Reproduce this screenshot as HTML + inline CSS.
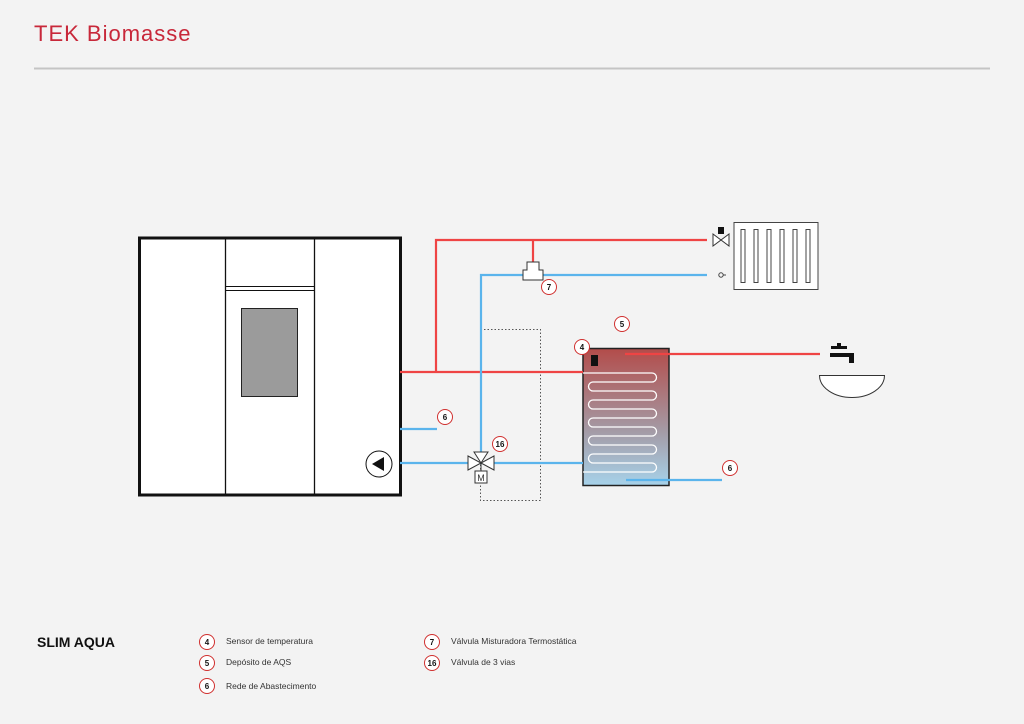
<!DOCTYPE html>
<html><head><meta charset="utf-8"><style>
html,body{margin:0;padding:0;background:#f3f3f3;}
svg{display:block;}
text{font-family:"Liberation Sans",sans-serif;}
</style></head><body>
<svg width="1024" height="724" viewBox="0 0 1024 724" xmlns="http://www.w3.org/2000/svg">
<defs>
<linearGradient id="tg" x1="0" y1="0" x2="0" y2="1">
<stop offset="0" stop-color="#b34c4a"/>
<stop offset="0.6" stop-color="#a49aa5"/>
<stop offset="1" stop-color="#a6d2ea"/>
</linearGradient>
</defs>
<rect width="1024" height="724" fill="#f3f3f3"/>
<text x="34" y="41" font-size="22" fill="#c8283a" letter-spacing="1">TEK Biomasse</text>
<line x1="34" y1="68.5" x2="990" y2="68.5" stroke="#c4c4c4" stroke-width="2"/>

<!-- boiler -->
<rect x="139.5" y="238" width="261" height="257" fill="#fff" stroke="#111" stroke-width="3"/>
<line x1="225.5" y1="238" x2="225.5" y2="495" stroke="#111" stroke-width="1.3"/>
<line x1="314.5" y1="238" x2="314.5" y2="495" stroke="#111" stroke-width="1.3"/>
<line x1="225.5" y1="286.5" x2="314.5" y2="286.5" stroke="#111" stroke-width="1"/>
<line x1="225.5" y1="290.5" x2="314.5" y2="290.5" stroke="#111" stroke-width="1"/>
<rect x="241.5" y="308.5" width="56" height="88" fill="#9b9b9b" stroke="#222" stroke-width="1"/>
<circle cx="379" cy="464" r="13" fill="#fff" stroke="#111" stroke-width="1"/>
<polygon points="372,464 384,457 384,471" fill="#111"/>

<!-- dotted -->
<rect x="480.5" y="329.5" width="60" height="171" fill="none" stroke="#555" stroke-width="1" stroke-dasharray="1.5,2"/>

<!-- tank -->
<rect x="583" y="348.5" width="86" height="137" fill="url(#tg)" stroke="#222" stroke-width="1.5"/>
<path d="M583,373 H652 a4.5,4.5 0 0 1 0,9 H593 a4.5,4.5 0 0 0 0,9 H652 a4.5,4.5 0 0 1 0,9 H593 a4.5,4.5 0 0 0 0,9 H652 a4.5,4.5 0 0 1 0,9 H593 a4.5,4.5 0 0 0 0,9 H652 a4.5,4.5 0 0 1 0,9 H593 a4.5,4.5 0 0 0 0,9 H652 a4.5,4.5 0 0 1 0,9 H593 a4.5,4.5 0 0 0 0,9 H652 a4.5,4.5 0 0 1 0,9 H583" fill="none" stroke="#fff" stroke-width="1.3"/>
<rect x="591" y="355" width="7" height="11" fill="#111"/>

<!-- red pipes -->
<g stroke="#ef4444" stroke-width="2.2" fill="none">
<line x1="400" y1="372" x2="583" y2="372"/>
<polyline points="436,372 436,240 707,240"/>
<line x1="533" y1="240" x2="533" y2="262"/>
<line x1="625" y1="354" x2="820" y2="354"/>
</g>
<!-- blue pipes -->
<g stroke="#5ab4ec" stroke-width="2.2" fill="none">
<polyline points="481,455 481,275 707,275"/>
<line x1="400" y1="463" x2="583" y2="463"/>
<line x1="400" y1="429" x2="437" y2="429"/>
<line x1="626" y1="480" x2="722" y2="480"/>
</g>
<!-- thermostatic valve -->
<path d="M527,262 h12 v8 h4 v10 h-20 v-10 h4 z" fill="#fff" stroke="#333" stroke-width="1"/>

<!-- 3-way valve -->
<g stroke="#333" stroke-width="1" fill="#fff">
<polygon points="468,456 481,463 468,470"/>
<polygon points="494,456 481,463 494,470"/>
<polygon points="474,452 488,452 481,463"/>
<rect x="475" y="471" width="12" height="12"/>
<line x1="481" y1="463" x2="481" y2="471"/>
</g>
<text x="481" y="481" font-size="9" text-anchor="middle" fill="#333">M</text>

<!-- radiator -->
<rect x="734" y="222.5" width="84" height="67" fill="#fff" stroke="#444" stroke-width="1"/>
<g fill="#fff" stroke="#444" stroke-width="1">
<rect x="741" y="229.5" width="4" height="53"/><rect x="754" y="229.5" width="4" height="53"/>
<rect x="767" y="229.5" width="4" height="53"/><rect x="780" y="229.5" width="4" height="53"/>
<rect x="793" y="229.5" width="4" height="53"/><rect x="806" y="229.5" width="4" height="53"/>
</g>
<rect x="718" y="227" width="6" height="7" fill="#111"/>
<g stroke="#333" stroke-width="1" fill="#fff">
<polygon points="713,234 729,246 729,234 713,246"/>
</g>
<circle cx="721" cy="275" r="2.2" fill="none" stroke="#444" stroke-width="1"/>
<line x1="723" y1="275" x2="726" y2="275" stroke="#444" stroke-width="1"/>

<!-- tap & sink -->
<rect x="831" y="346" width="16" height="3" fill="#111"/>
<rect x="837" y="343" width="4" height="6" fill="#111"/>
<rect x="830" y="353" width="24" height="4" fill="#111"/>
<rect x="849" y="353" width="5" height="10" fill="#111"/>
<path d="M819.5,375.5 H884.5 A32.5,22 0 0 1 819.5,375.5 Z" fill="#fff" stroke="#333" stroke-width="1"/>

<!-- label circles -->
<g fill="#fff" stroke="#d0302f" stroke-width="1">
<circle cx="549" cy="287" r="7.5"/>
<circle cx="622" cy="324" r="7.5"/>
<circle cx="582" cy="347" r="7.5"/>
<circle cx="445" cy="417" r="7.5"/>
<circle cx="500" cy="444" r="7.5"/>
<circle cx="730" cy="468" r="7.5"/>
<circle cx="207" cy="642" r="7.5"/>
<circle cx="207" cy="663" r="7.5"/>
<circle cx="207" cy="686" r="7.5"/>
<circle cx="432" cy="642" r="7.5"/>
<circle cx="432" cy="663" r="7.5"/>
</g>
<g font-size="8" font-weight="bold" fill="#111" text-anchor="middle">
<text x="549" y="290">7</text><text x="622" y="327">5</text><text x="582" y="350">4</text>
<text x="445" y="420">6</text><text x="500" y="447">16</text><text x="730" y="471">6</text>
<text x="207" y="645">4</text><text x="207" y="666">5</text><text x="207" y="689">6</text>
<text x="432" y="645">7</text><text x="432" y="666">16</text>
</g>

<text x="37" y="647" font-size="14" font-weight="bold" fill="#111">SLIM AQUA</text>
<g font-size="8.5" fill="#333">
<text x="226" y="644">Sensor de temperatura</text>
<text x="226" y="665">Depósito de AQS</text>
<text x="226" y="689">Rede de Abastecimento</text>
<text x="451" y="644">Válvula Misturadora Termostática</text>
<text x="451" y="665">Válvula de 3 vias</text>
</g>
</svg>
</body></html>
